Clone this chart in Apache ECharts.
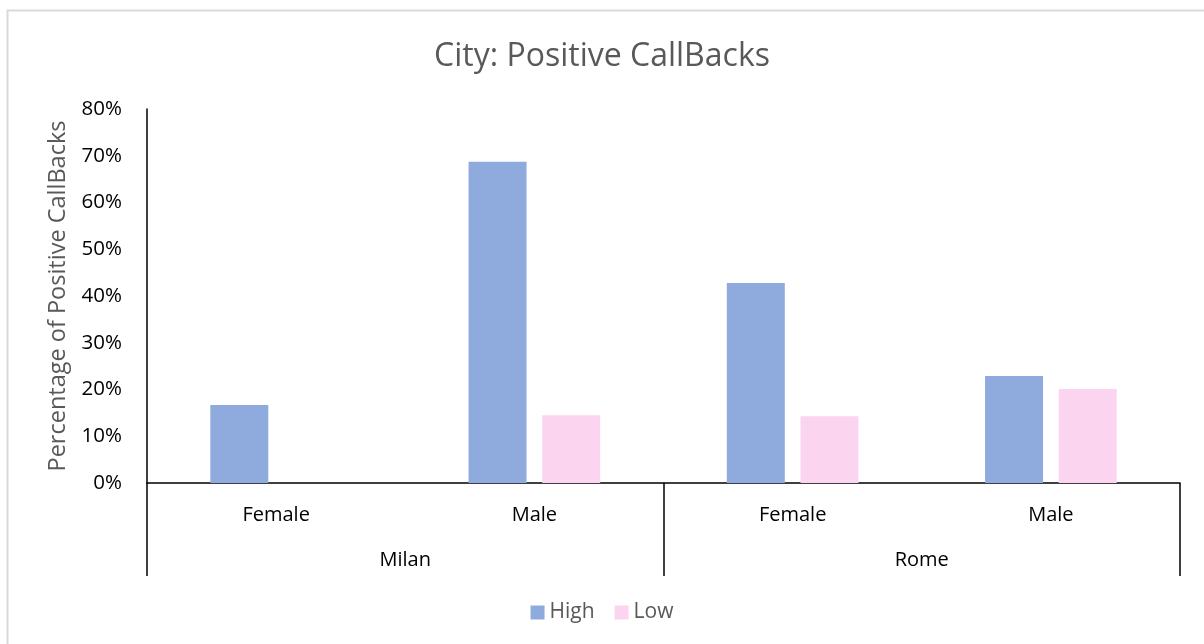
<!DOCTYPE html>
<html>
<head>
<meta charset="utf-8">
<script src="https://cdn.jsdelivr.net/npm/echarts@6/dist/echarts.min.js"></script>
<style>
  html, body { margin: 0; padding: 0; background: #fff; }
  #chart { width: 1204px; height: 644px; }
</style>
</head>
<body>
<div id="chart"></div>
<script>
// data
var genders = ['Female', 'Male', 'Female', 'Male'];
var cities = ['Milan', 'Rome'];
var highValues = [16.7, 68.7, 42.8, 22.9];
var lowValues = [null, 14.5, 14.3, 20.1];
var yTicks = [0, 10, 20, 30, 40, 50, 60, 70, 80];

var font = '"Open Sans", "Liberation Sans", sans-serif';
var myChart = echarts.init(document.getElementById('chart'));

var option = {
    backgroundColor: '#fff',
    animation: false,
    title: {
        text: 'City: Positive CallBacks',
        left: 'center',
        top: 36,
        textStyle: { fontFamily: font, fontSize: 32, fontWeight: 'normal', color: '#595959' }
    },
    legend: {
        data: ['High', 'Low'],
        bottom: 16,
        left: 'center',
        itemWidth: 14,
        itemHeight: 14,
        itemGap: 20,
        icon: 'rect',
        textStyle: { fontFamily: font, fontSize: 21, color: '#595959' }
    },
    grid: { left: 147, right: 24, top: 109, bottom: 161 },
    xAxis: [{
        type: 'category',
        data: genders,
        position: 'bottom',
        axisLine: { lineStyle: { color: '#000', width: 1.5 } },
        axisTick: { show: false },
        axisLabel: { fontFamily: font, fontSize: 20, color: '#000', margin: 22 }
    }, {
        type: 'category',
        data: cities,
        position: 'bottom',
        axisLine: { show: false },
        axisTick: { show: true, length: 93, alignWithLabel: false, lineStyle: { color: '#000', width: 1.5 } },
        axisLabel: { fontFamily: font, fontSize: 20, color: '#000', margin: 67 }
    }],
    yAxis: {
        type: 'value',
        min: yTicks[0],
        max: yTicks[yTicks.length - 1],
        interval: 10,
        name: 'Percentage of Positive CallBacks',
        nameLocation: 'middle',
        nameGap: 76,
        nameTextStyle: { fontFamily: font, fontSize: 23.5, color: '#595959' },
        axisLine: { show: true, lineStyle: { color: '#000', width: 1.5 } },
        axisTick: { show: false },
        splitLine: { show: false },
        axisLabel: {
            fontFamily: font, fontSize: 20.5, color: '#000', margin: 25,
            formatter: function (v) { return v + '%'; }
        }
    },
    series: [{
        name: 'High',
        type: 'bar',
        xAxisIndex: 0,
        data: highValues,
        barWidth: 58,
        barGap: '27%',
        itemStyle: { color: '#8faadc' }
    }, {
        name: 'Low',
        type: 'bar',
        xAxisIndex: 0,
        data: lowValues,
        barWidth: 58,
        itemStyle: { color: '#fbd5ef' }
    }],
    graphic: [{
        type: 'rect',
        shape: { x: 7.5, y: 10.5, width: 1220, height: 660 },
        style: { fill: null, stroke: '#d9d9d9', lineWidth: 2 },
        silent: true
    }]
};
myChart.setOption(option);
</script>
</body>
</html>
